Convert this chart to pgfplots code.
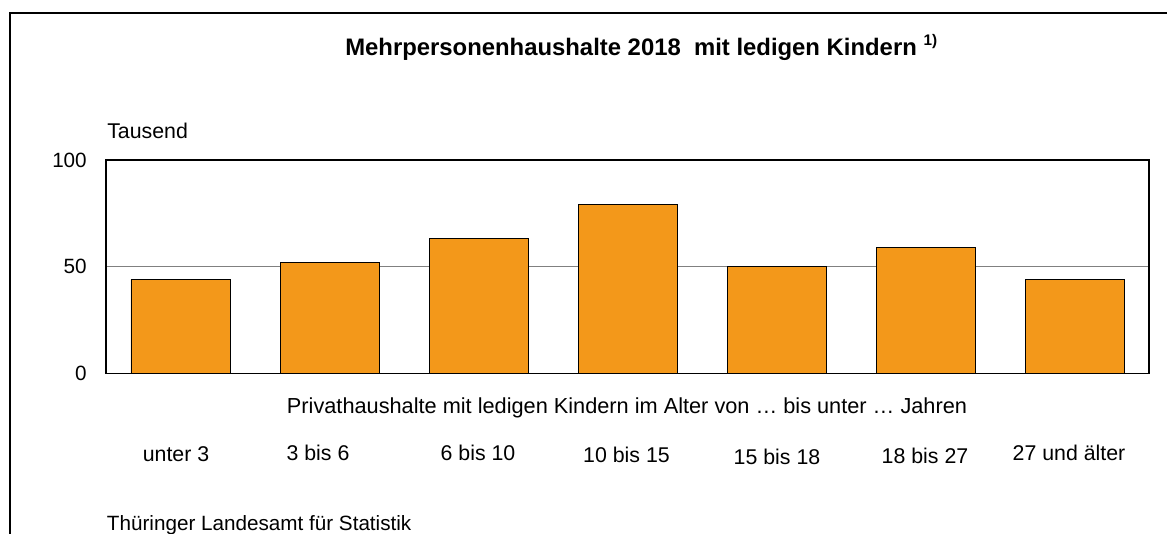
\documentclass[border=0pt]{standalone}
\usepackage{fontspec}
\setmainfont{Liberation Sans}
\usepackage{pgfplots}
\pgfplotsset{compat=1.18}
\definecolor{barorange}{RGB}{243,152,26}
\definecolor{gridgray}{RGB}{128,128,128}
\begin{document}
\begin{tikzpicture}[x=0.75pt,y=0.75pt]
\useasboundingbox (0,0) rectangle (1167,534);
% outer frame (cut by page edge on right and bottom)
\draw[line width=2.2pt] (10,-20) -- (10,521) -- (1190,521);
\coordinate (O) at (106,160.7);
\begin{axis}[
  at={(O)}, anchor=south west,
  scale only axis, width=782.25pt, height=160pt,
  xmin=-0.5, xmax=6.5, ymin=0, ymax=100,
  ytick={0,50,100}, xtick=\empty,
  ymajorgrids, major grid style={gridgray, line width=1.1pt},
  major tick length=0pt,
  axis line style={black, line width=1.1pt},
  yticklabel style={font=\fontsize{15.5pt}{18pt}\selectfont, inner sep=0pt, xshift=-14.25pt},
  /pgf/number format/assume math mode=true,
  axis on top=false,
]
\addplot[ybar, bar width=74.25pt, fill=barorange, draw=black, line width=0.6pt]
  coordinates {(0,44) (1,52) (2,63) (3,79) (4,50) (5,59) (6,44)};
\end{axis}
\begin{scope}[every node/.style={inner sep=0pt, font=\fontsize{16pt}{19pt}\selectfont}]
\node[anchor=base west, font=\bfseries\fontsize{17.9pt}{21pt}\selectfont] at (345,478)
  {Mehrpersonenhaushalte 2018\ \ mit ledigen Kindern \raisebox{0.42em}{\fontsize{11.5pt}{13pt}\selectfont 1)}};
\node[anchor=base west] at (107,395) {Tausend};
\node[anchor=base, font=\fontsize{16.3pt}{19pt}\selectfont] at (627,120) {Privathaushalte mit ledigen Kindern im Alter von … bis unter … Jahren};
\node[anchor=base] at (176,72) {unter 3};
\node[anchor=base] at (318,73) {3 bis 6};
\node[anchor=base] at (478,73) {6 bis 10};
\node[anchor=base] at (626.5,71) {10 bis 15};
\node[anchor=base] at (777,69) {15 bis 18};
\node[anchor=base] at (925,70) {18 bis 27};
\node[anchor=base] at (1069,73) {27 und älter};
\node[anchor=base west, font=\fontsize{15.5pt}{18pt}\selectfont] at (106.7,3.3) {Thüringer Landesamt für Statistik};
\end{scope}
\end{tikzpicture}
\end{document}
